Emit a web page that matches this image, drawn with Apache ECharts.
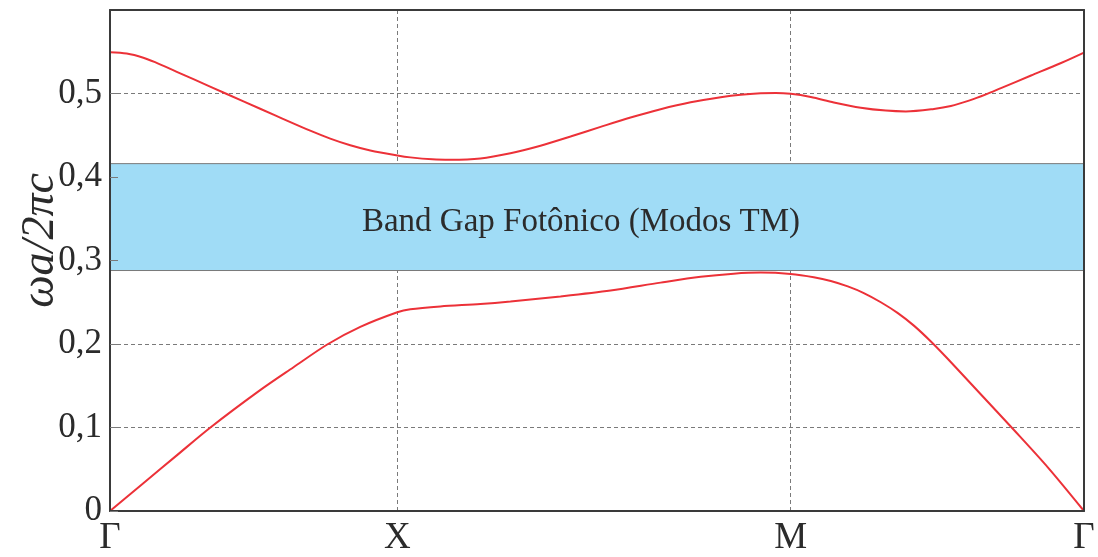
<!DOCTYPE html>
<html>
<head>
<meta charset="utf-8">
<script src="https://cdn.jsdelivr.net/npm/echarts@6/dist/echarts.min.js"></script>
<style>
html,body{margin:0;padding:0;background:#ffffff;}
#chart{width:1098px;height:557px;}
</style>
</head>
<body>
<div id="chart"></div>
<script>
// k-path positions (units: Γ–X segment = 1)
const kPointNames = ['Γ', 'X', 'M', 'Γ'];
const kPointPos = [0, 1, 2.369, 3.390];

// Upper band (ωa/2πc)
const upperK = [0, 0.0582, 0.1160, 0.1568, 0.2324, 0.3484, 0.4645, 0.5808, 0.6969, 0.7666, 0.8362, 0.9059, 1.0, 1.0453, 1.1220, 1.1847, 1.2892, 1.3937, 1.4983, 1.6028, 1.7073, 1.8118, 1.9164, 2.0209, 2.1254, 2.1951, 2.2648, 2.3171, 2.369, 2.4390, 2.5192, 2.6132, 2.7003, 2.7700, 2.8676, 2.9268, 2.9895, 3.0488, 3.1010, 3.2056, 3.3101, 3.390];
const upperW = [0.5494, 0.5478, 0.5429, 0.5375, 0.5260, 0.5083, 0.4906, 0.4729, 0.4555, 0.4460, 0.4380, 0.4318, 0.4258, 0.4235, 0.4212, 0.4207, 0.4222, 0.4285, 0.4375, 0.4485, 0.4600, 0.4712, 0.4812, 0.4895, 0.4955, 0.4985, 0.5002, 0.5006, 0.4996, 0.4958, 0.4893, 0.4830, 0.4795, 0.4785, 0.4815, 0.4850, 0.4915, 0.4990, 0.5065, 0.5215, 0.5365, 0.5490];

// Lower band (ωa/2πc)
const lowerK = [0, 0.1160, 0.2324, 0.3484, 0.5226, 0.6376, 0.7561, 0.8711, 1.0, 1.0453, 1.1498, 1.2892, 1.3937, 1.5679, 1.7422, 1.9164, 2.0557, 2.1707, 2.2648, 2.369, 2.4495, 2.5087, 2.5679, 2.6237, 2.6829, 2.7422, 2.7979, 2.8571, 2.9164, 3.0314, 3.1463, 3.2648, 3.390];
const lowerW = [0, 0.0333, 0.0666, 0.0997, 0.1447, 0.1719, 0.1994, 0.2205, 0.2380, 0.2416, 0.245, 0.248, 0.251, 0.257, 0.264, 0.2735, 0.2805, 0.2842, 0.2855, 0.2839, 0.2800, 0.2755, 0.2690, 0.2610, 0.2500, 0.2370, 0.2220, 0.2030, 0.1820, 0.1395, 0.097, 0.052, 0];

// Photonic band gap (TM modes)
const gapMin = 0.288;
const gapMax = 0.416;
const gapLabel = 'Band Gap Fotônico (Modos TM)';

// y-axis ticks
const yMin = 0, yMax = 0.6, yStep = 0.1;
const yName = 'ωa/2πc';

const serif = 'Liberation Serif';
const textColor = '#2b2b2b';
const frameColor = '#3a3a3a';
const gridColor = '#7a7a7a';
const curveColor = '#ec3138';

const kMax = kPointPos[kPointPos.length - 1];
function kName(v) {
  let best = 0, d = Infinity;
  kPointPos.forEach((p, i) => { if (Math.abs(p - v) < d) { d = Math.abs(p - v); best = i; } });
  return kPointNames[best];
}
function yFmt(v) {
  if (Math.abs(v) < 1e-9) return '0';
  return v.toFixed(1).replace('.', ',');
}

const chart = echarts.init(document.getElementById('chart'), null, {renderer: 'canvas'});

const xBase = {type: 'value', min: 0, max: kMax, gridIndex: 0};
const yBase = {type: 'value', min: yMin, max: yMax, interval: yStep, gridIndex: 0};

chart.setOption({
  animation: false,
  backgroundColor: '#ffffff',
  grid: {left: 110, right: 14, top: 10, bottom: 46, containLabel: false, outerBoundsMode: 'none'},
  xAxis: [
    Object.assign({}, xBase, {
      position: 'bottom', z: 0,
      axisLine: {show: false}, axisLabel: {show: false},
      axisTick: {show: false, customValues: kPointPos},
      splitLine: {show: true, lineStyle: {color: gridColor, type: [4, 3], width: 1}}
    }),
    Object.assign({}, xBase, {
      position: 'bottom', z: 10,
      axisLine: {show: true, onZero: false, lineStyle: {color: frameColor, width: 2}},
      axisTick: {show: false, customValues: kPointPos},
      axisLabel: {
        show: true, customValues: kPointPos, showMinLabel: true, showMaxLabel: true,
        formatter: (v) => kName(v),
        fontFamily: serif, fontSize: 37, color: textColor, margin: 9
      },
      splitLine: {show: false}
    }),
    Object.assign({}, xBase, {
      position: 'top', z: 10,
      axisLine: {show: true, onZero: false, lineStyle: {color: frameColor, width: 2}},
      axisTick: {show: false}, axisLabel: {show: false}, splitLine: {show: false}
    })
  ],
  yAxis: [
    Object.assign({}, yBase, {
      position: 'left', z: 0,
      axisLine: {show: false}, axisLabel: {show: false}, axisTick: {show: false},
      splitLine: {show: true, lineStyle: {color: gridColor, type: [4, 3], width: 1}}
    }),
    Object.assign({}, yBase, {
      position: 'left', z: 10,
      name: yName, nameLocation: 'middle', nameGap: 46, nameMoveOverlap: false,
      nameTextStyle: {fontFamily: serif, fontStyle: 'italic', fontSize: 46, color: textColor, padding: [0, 0, 0, 40]},
      axisLine: {show: true, onZero: false, lineStyle: {color: frameColor, width: 2}},
      axisTick: {show: true, inside: true, length: 8, lineStyle: {color: gridColor, width: 1}},
      axisLabel: {show: true, showMaxLabel: false, formatter: yFmt, fontFamily: serif, fontSize: 35, color: textColor, margin: 8},
      splitLine: {show: false}
    }),
    Object.assign({}, yBase, {
      position: 'right', z: 10,
      axisLine: {show: true, onZero: false, lineStyle: {color: frameColor, width: 2}},
      axisTick: {show: false}, axisLabel: {show: false}, splitLine: {show: false}
    })
  ],
  series: [
    {
      name: 'upper', type: 'line', xAxisIndex: 0, yAxisIndex: 0,
      data: upperK.map((k, i) => [k, upperW[i]]),
      smooth: 0.3, showSymbol: false, symbol: 'none',
      lineStyle: {color: curveColor, width: 2}, z: 3,
      markArea: {
        silent: true,
        itemStyle: {color: '#a0dcf6', borderColor: '#7a7a7a', borderWidth: 1},
        label: {
          show: true, position: 'inside', formatter: gapLabel,
          fontFamily: serif, fontSize: 33, color: textColor, offset: [-16, 5]
        },
        data: [[{xAxis: 0, yAxis: gapMin}, {xAxis: kMax, yAxis: gapMax}]]
      }
    },
    {
      name: 'lower', type: 'line', xAxisIndex: 0, yAxisIndex: 0,
      data: lowerK.map((k, i) => [k, lowerW[i]]),
      smooth: 0.3, showSymbol: false, symbol: 'none',
      lineStyle: {color: curveColor, width: 2}, z: 3
    }
  ]
});
</script>
</body>
</html>
